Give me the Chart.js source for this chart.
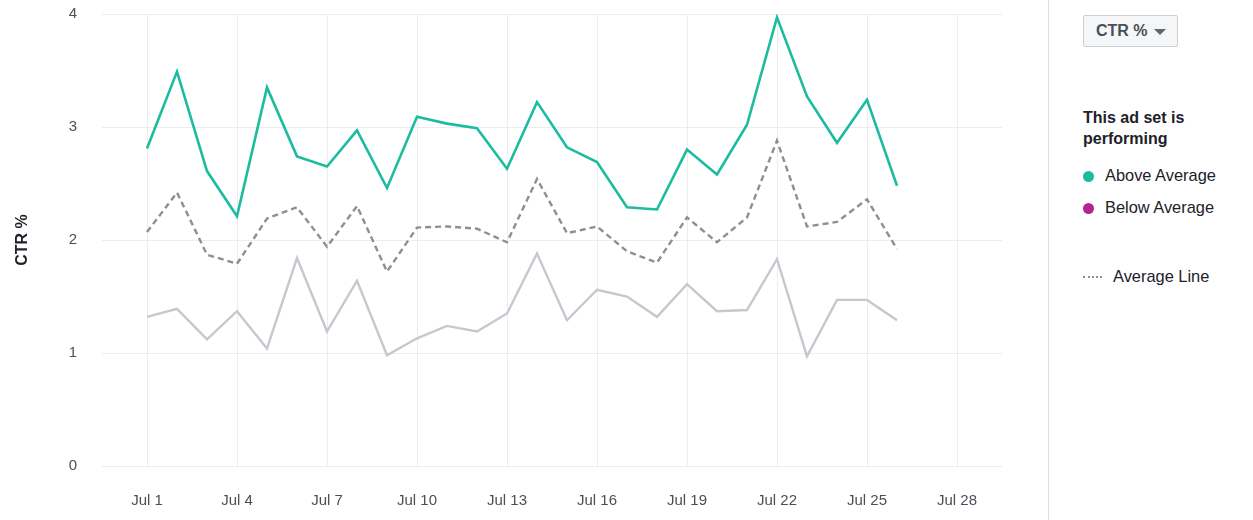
<!DOCTYPE html>
<html>
<head>
<meta charset="utf-8">
<script src="https://cdn.jsdelivr.net/npm/chart.js@4"></script>
<style>
  body { margin:0; background:#fff; font-family:"Liberation Sans", Arial, sans-serif; }
  #wrap { position:absolute; left:0; top:0; width:1010px; height:520px; }
  #sep { position:absolute; left:1048px; top:0; width:1px; height:520px; background:#dddfe2; }
  #btn { position:absolute; left:1083px; top:15px; width:93px; height:30px; border:1px solid #ccd0d5;
         border-radius:2px; background:#f5f6f7; color:#4b4f56; font-weight:bold; font-size:16px; }
  #btn span { position:absolute; left:12px; top:6px; }
  #btn i { position:absolute; left:70px; top:13px; width:0; height:0; border-left:6px solid transparent;
           border-right:6px solid transparent; border-top:6px solid #606770; }
  #title { position:absolute; left:1083px; top:107px; font-weight:bold; font-size:16px; line-height:21px; color:#1d2129; }
  .item { position:absolute; left:1083px; font-size:16.4px; color:#1d2129; line-height:20px; }
  .dot { display:inline-block; width:11px; height:11px; border-radius:50%; vertical-align:-1px; margin-right:11px; }
  .dash { display:inline-block; width:19px; border-top:2px dotted #8e8f94; vertical-align:4px; margin-right:11px; }
</style>
</head>
<body>
<div id="wrap"><canvas id="chart"></canvas></div>
<div id="sep"></div>
<div id="btn"><span>CTR %</span><i></i></div>
<div id="title">This ad set is<br>performing</div>
<div class="item" style="top:165px"><span class="dot" style="background:#1bbc9f"></span>Above Average</div>
<div class="item" style="top:197px"><span class="dot" style="background:#b0288e"></span>Below Average</div>
<div class="item" style="top:266px"><span class="dash"></span>Average Line</div>
<script>
// day of July for each data point
const days = [1,2,3,4,5,6,7,8,9,10,11,12,13,14,15,16,17,18,19,20,21,22,23,24,25,26];
const tickDays = [1,4,7,10,13,16,19,22,25,28];
const tickLabels = ['Jul 1','Jul 4','Jul 7','Jul 10','Jul 13','Jul 16','Jul 19','Jul 22','Jul 25','Jul 28'];

const adSetCtr = [2.81,3.49,2.61,2.21,3.35,2.74,2.65,2.97,2.46,3.09,3.03,2.99,2.63,3.22,2.82,2.69,2.29,2.27,2.80,2.58,3.02,3.97,3.27,2.86,3.24,2.48];
const averageCtr = [2.07,2.42,1.87,1.79,2.19,2.29,1.94,2.30,1.72,2.11,2.12,2.10,1.98,2.54,2.06,2.12,1.90,1.80,2.20,1.98,2.20,2.88,2.12,2.16,2.36,1.92];
const otherCtr = [1.32,1.39,1.12,1.37,1.04,1.84,1.19,1.64,0.98,1.13,1.24,1.19,1.35,1.88,1.29,1.56,1.50,1.32,1.61,1.37,1.38,1.83,0.97,1.47,1.47,1.29];

const pts = arr => days.map((d, i) => ({x: d, y: arr[i]}));
const tickFont = {family:'"Liberation Sans", Arial, sans-serif', size:15};
const gridColor = '#ebedf0';

new Chart(document.getElementById('chart').getContext('2d'), {
  type: 'line',
  data: {
    datasets: [
      {label:'CTR %', data: pts(adSetCtr), borderColor:'#1bbc9f', borderWidth:2.6, pointRadius:0, tension:0},
      {label:'Average Line', data: pts(averageCtr), borderColor:'#8e8f94', borderWidth:2.4, borderDash:[6,4], pointRadius:0, tension:0},
      {label:'Other', data: pts(otherCtr), borderColor:'#c5c8ce', borderWidth:2.4, pointRadius:0, tension:0}
    ]
  },
  options: {
    responsive: true,
    maintainAspectRatio: false,
    animation: false,
    layout: {padding: {top:14, right:8, left:0, bottom:0}},
    plugins: {legend:{display:false}, tooltip:{enabled:false}},
    scales: {
      x: {
        type: 'linear', min: -0.5, max: 29.5,
        afterBuildTicks: s => { s.ticks = tickDays.map(v => ({value: v})); },
        afterFit: s => { s.height = 54; s.paddingLeft = 0; s.paddingRight = 0; },
        ticks: {color:'#4b4f56', font:tickFont, padding:26, maxRotation:0,
                callback: v => tickLabels[tickDays.indexOf(v)]},
        grid: {color:gridColor, drawTicks:false},
        border: {display:false}
      },
      y: {
        min: 0, max: 4,
        afterFit: s => { s.width = 102; s.paddingTop = 0; s.paddingBottom = 0; },
        ticks: {stepSize:1, color:'#4b4f56', font:tickFont, padding:25},
        grid: {color:gridColor, drawTicks:false},
        border: {display:false},
        title: {display:true, text:'CTR %', color:'#1d2129', padding:{top:13},
                font:{family:'"Liberation Sans", Arial, sans-serif', size:16, weight:'bold'}}
      }
    }
  }
});
</script>
</body>
</html>
